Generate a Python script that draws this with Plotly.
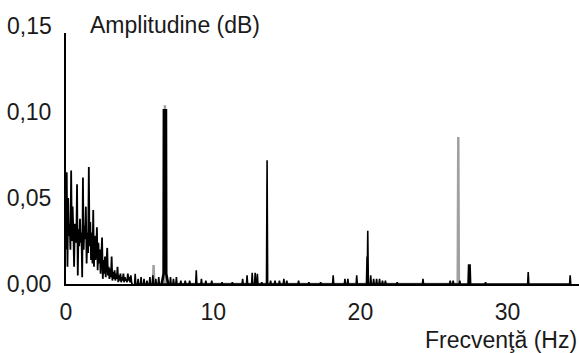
import plotly.graph_objects as go

# Low-frequency dense band (Hz, amplitude)
low_freq = [round(i * 0.05, 2) for i in range(91)]
low_amp = [
    0.020, 0.065, 0.010, 0.050, 0.028, 0.035, 0.020, 0.066, 0.025, 0.045,
    0.030, 0.010, 0.035, 0.028, 0.024, 0.058, 0.005, 0.032, 0.022, 0.038,
    0.024, 0.030, 0.004, 0.062, 0.020, 0.034, 0.026, 0.045, 0.012, 0.030,
    0.018, 0.068, 0.022, 0.036, 0.014, 0.030, 0.012, 0.043, 0.010, 0.028,
    0.014, 0.020, 0.033, 0.008, 0.024, 0.012, 0.020, 0.006, 0.018, 0.027,
    0.003, 0.014, 0.006, 0.016, 0.004, 0.012, 0.021, 0.005, 0.010, 0.003,
    0.009, 0.004, 0.016, 0.002, 0.007, 0.003, 0.008, 0.002, 0.006, 0.003,
    0.010, 0.001, 0.005, 0.002, 0.006, 0.001, 0.004, 0.002, 0.006, 0.001,
    0.004, 0.002, 0.003, 0.001, 0.006, 0.002, 0.004, 0.001, 0.005, 0.001,
    0.000,
]

# Main 6.7 Hz component (outline points)
main_freq = [6.50, 6.63, 6.65, 6.79, 6.81, 6.94]
main_amp = [0.0, 0.006, 0.101, 0.101, 0.006, 0.0]

# Isolated black spectral lines
spike_freq = [4.7, 4.9, 5.1, 5.3, 5.5, 5.7, 5.9, 6.1, 6.3,
              7.1, 7.3, 7.5, 7.8, 8.1, 8.4, 8.85, 9.2, 9.5, 9.9, 10.6, 11.3,
              12.0, 12.3, 12.65, 12.85, 13.0, 13.3, 13.66, 13.9, 14.2, 14.5,
              14.8, 15.0, 15.8, 16.5, 17.3, 18.15, 18.95, 19.15, 19.75,
              20.45, 20.5, 20.7, 20.9, 21.1, 21.3, 21.5, 21.7, 22.5, 24.25,
              26.1, 26.3, 26.75, 27.35, 27.45, 28.5, 31.4, 34.25]
spike_amp = [0.006, 0.003, 0.004, 0.003, 0.002, 0.004, 0.005, 0.003, 0.004,
             0.004, 0.003, 0.004, 0.002, 0.002, 0.002, 0.008, 0.003, 0.002, 0.002, 0.001, 0.001,
             0.003, 0.005, 0.0065, 0.0065, 0.006, 0.001, 0.072, 0.002, 0.002, 0.002,
             0.003, 0.002, 0.002, 0.001, 0.001, 0.005, 0.003, 0.003, 0.005,
             0.016, 0.031, 0.005, 0.003, 0.003, 0.003, 0.002, 0.002, 0.001, 0.003,
             0.002, 0.002, 0.002, 0.0115, 0.0115, 0.001, 0.007, 0.005]

# Grey spectral lines
grey_freq = [5.95, 6.72, 26.65]
grey_amp = [0.011, 0.104, 0.0855]

y_tick_vals = [0.0, 0.05, 0.10]
y_tick_text = ["0,00", "0,05", "0,10"]
x_tick_vals = [0, 10, 20, 30]
x_tick_text = ["0", "10", "20", "30"]

Y_MAX = 0.146
HW = 0.04


def spikes(freqs, amps):
    xs, ys = [], []
    for f, a in zip(freqs, amps):
        xs += [f - HW, f, f + HW]
        ys += [0.0, a, 0.0]
    return xs, ys


sx, sy = spikes(spike_freq, spike_amp)
gx, gy = spikes(grey_freq, grey_amp)

fig = go.Figure()
fig.add_trace(go.Scatter(x=gx, y=gy, mode="lines",
                         line=dict(color="#a0a0a0", width=2.5),
                         hoverinfo="skip", showlegend=False))
fig.add_trace(go.Scatter(x=low_freq, y=low_amp, mode="lines",
                         line=dict(color="#000000", width=1.8),
                         hoverinfo="skip", showlegend=False))
fig.add_trace(go.Scatter(x=sx, y=sy, mode="lines",
                         line=dict(color="#000000", width=1.6),
                         hoverinfo="skip", showlegend=False))
fig.add_trace(go.Scatter(x=main_freq, y=main_amp, mode="lines",
                         line=dict(color="#000000", width=2.6),
                         hoverinfo="skip", showlegend=False))

font = dict(family="Liberation Sans, Arial, sans-serif", size=23, color="#1a1a1a")

fig.update_layout(
    width=579, height=353,
    margin=dict(l=66, r=0, t=33, b=69, autoexpand=False),
    paper_bgcolor="white", plot_bgcolor="white",
    font=font,
    xaxis=dict(range=[0, 34.85], showgrid=False, zeroline=False,
               showline=True, linecolor="black", linewidth=2,
               tickvals=x_tick_vals, ticktext=x_tick_text,
               ticks="outside", ticklen=6, tickcolor="white",
               tickfont=font, automargin=False),
    yaxis=dict(range=[0, Y_MAX], showgrid=False, zeroline=False,
               showline=True, linecolor="black", linewidth=2,
               tickvals=y_tick_vals, ticktext=y_tick_text,
               ticks="outside", ticklen=8, tickcolor="white",
               tickfont=font, automargin=False),
    annotations=[
        dict(text="0,15", xref="paper", yref="paper", x=-12 / 513, y=0.15 / Y_MAX,
             xanchor="right", yanchor="middle", showarrow=False, font=font),
        dict(text="Amplitudine (dB)", xref="paper", yref="paper",
             x=22 / 513, y=1 + 8 / 251, xanchor="left", yanchor="middle",
             showarrow=False, font=font),
        dict(text="Frecvenţă (Hz)", xref="paper", yref="paper",
             x=1.0, y=-56 / 251, xanchor="right", yanchor="middle",
             showarrow=False, font=font),
    ],
)

fig.write_html("out.html", config={"displayModeBar": False},
               post_script="document.body.style.margin='0';document.body.style.padding='0';")
